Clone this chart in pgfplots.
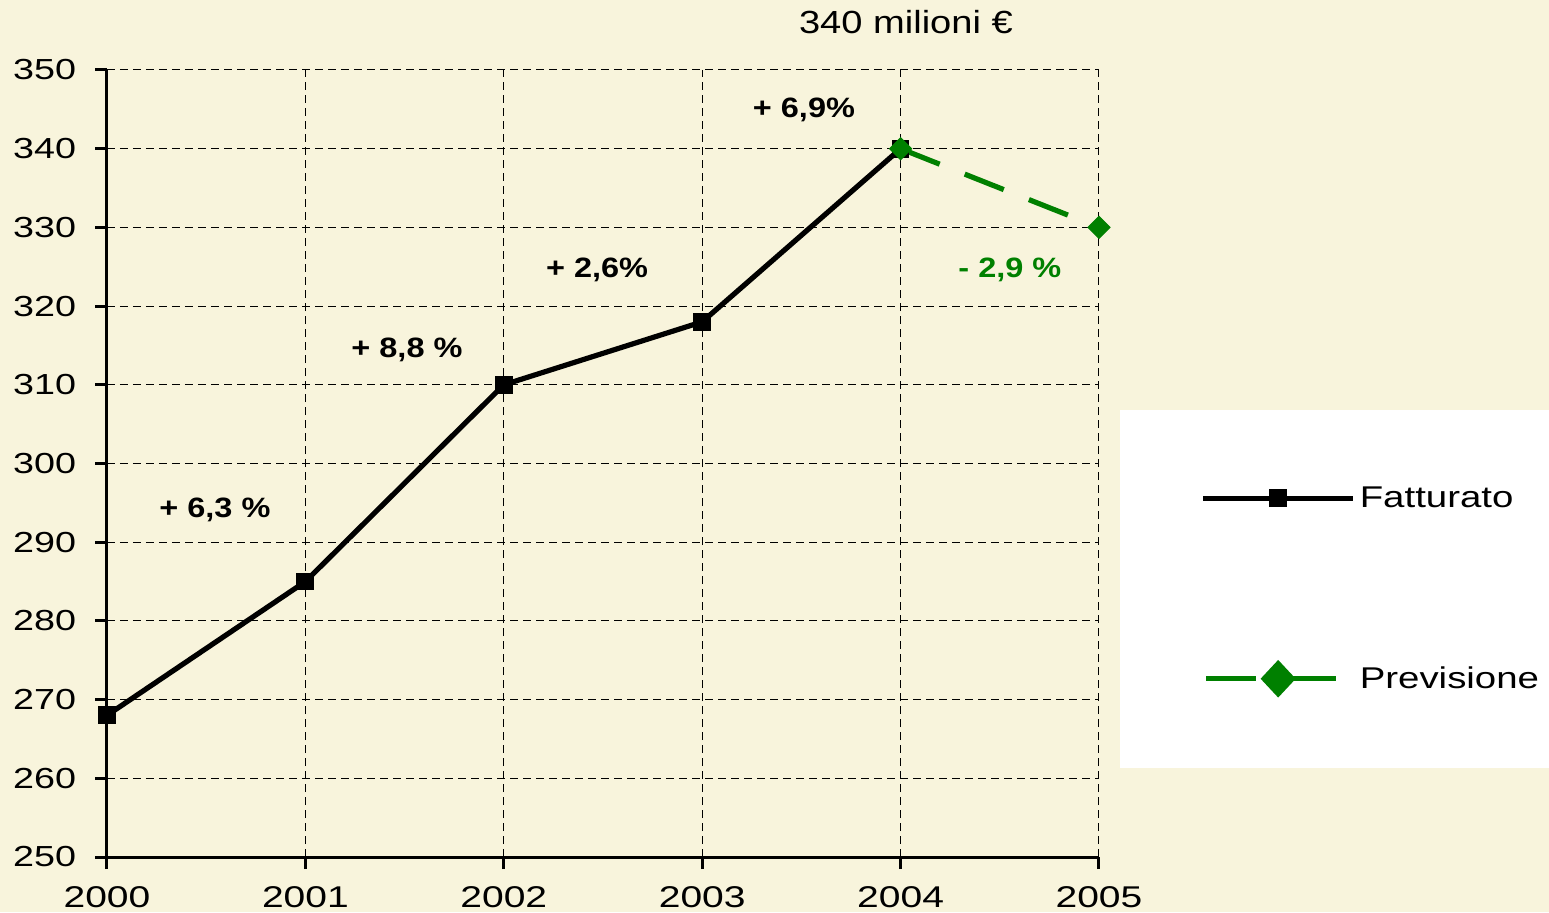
\documentclass[border=0pt]{standalone}
\usepackage{pgfplots}
\pgfplotsset{compat=1.18}
\usepackage{fontspec}
\setmainfont{Liberation Sans}
\newfontfamily\tickfont[FakeStretch=1.3]{Liberation Sans}
\newfontfamily\legfont[FakeStretch=1.28]{Liberation Sans}
\newfontfamily\titfont[FakeStretch=1.19]{Liberation Sans}
\newfontfamily\annfont[FakeStretch=1.16]{Liberation Sans}
\definecolor{bgc}{RGB}{248,244,220}
\definecolor{prevgreen}{RGB}{0,128,0}
\begin{document}
\begin{tikzpicture}
\fill[bgc] (0pt,0pt) rectangle (774.5pt,456pt);
\fill[white] (560pt,72pt) rectangle (774.5pt,251pt);
\begin{axis}[
  at={(53.5pt,27.5pt)}, anchor=south west,
  scale only axis, width=496pt, height=393.5pt,
  xmin=2000, xmax=2005, ymin=250, ymax=350,
  xtick={2000,2001,2002,2003,2004,2005},
  ytick={250,260,270,280,290,300,310,320,330,340,350},
  axis lines*=left,
  axis line style={line width=1.5pt, black},
  major tick length=6pt, tick align=outside,
  tick style={line width=1.5pt, black},
  grid=major,
  major grid style={dash pattern=on 4pt off 2.5pt, line width=0.5pt, black},
  yticklabel style={font=\tickfont\fontsize{14.5}{16}\selectfont, xshift=-6pt},
  xticklabel style={font=\tickfont\fontsize{15}{17}\selectfont, yshift=-5pt, /pgf/number format/1000 sep=},
  /pgf/number format/assume math mode=true,
  clip=false,
  legend style={at={(axis description cs:1.102,0.340)}, anchor=west,
    draw=none, fill=none, inner sep=0pt, row sep=73.5pt,
    font=\legfont\fontsize{15}{18}\selectfont, cells={anchor=west}},
  legend image code/.code={\draw[mark repeat=2,mark phase=2,#1] plot coordinates {(0pt,0pt)(37.5pt,0pt)(75pt,0pt)};},
]
\addplot[black, line width=2.6pt, mark=square*, mark size=4.2pt, mark options={solid, line width=0.5pt}]
  coordinates {(2000,268)(2001,285)(2002,310)(2003,318)(2004,340)};
\addlegendentry{Fatturato}
\addplot[prevgreen, line width=2.6pt, dash pattern=on 21pt off 13.5pt, mark=square*, mark size=3.9pt, mark options={solid, rotate=45, line width=0.5pt},
  legend image code/.code={
    \draw[prevgreen, solid, line width=2.5pt] (1.5pt,0pt) -- (26.5pt,0pt);
    \draw[prevgreen, solid, line width=2.5pt] (44pt,0pt) -- (66.5pt,0pt);
    \fill[prevgreen, solid] (37.5pt,7.5pt) -- (44.5pt,0pt) -- (37.5pt,-7.5pt) -- (30.5pt,0pt) -- cycle;}]
  coordinates {(2004,340)(2005,330)};
\addlegendentry{Previsione}
\node[font=\annfont\fontsize{14}{16}\selectfont\bfseries] at (axis cs:2000.544,294.1) {+ 6,3 \%};
\node[font=\annfont\fontsize{14}{16}\selectfont\bfseries] at (axis cs:2001.512,314.4) {+ 8,8 \%};
\node[font=\annfont\fontsize{14}{16}\selectfont\bfseries] at (axis cs:2002.47,324.6) {+ 2,6\%};
\node[font=\annfont\fontsize{14}{16}\selectfont\bfseries] at (axis cs:2003.513,344.9) {+ 6,9\%};
\node[font=\annfont\fontsize{14}{16}\selectfont\bfseries, text=prevgreen] at (axis cs:2004.551,324.6) {- 2,9 \%};
\node[font=\titfont\fontsize{16}{18}\selectfont] at (axis cs:2004.027,356.1) {340 milioni €};
\end{axis}
\pgfresetboundingbox
\path (0pt,0pt) rectangle (774.5pt,456pt);
\end{tikzpicture}
\end{document}
